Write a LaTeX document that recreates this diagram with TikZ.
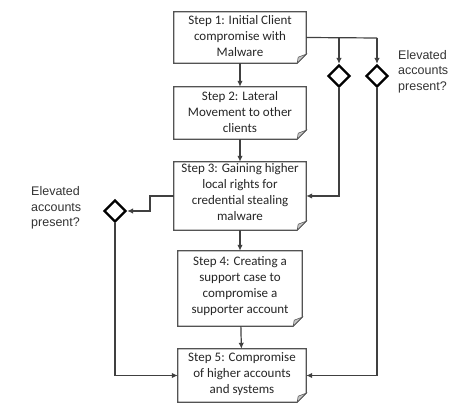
\documentclass[tikz,border=0pt]{standalone}
\usepackage{fontspec}
\newfontfamily\boxfont{Carlito}
\newfontfamily\qfont{Liberation Sans}
\usetikzlibrary{shapes.geometric,arrows.meta}
\definecolor{linegray}{HTML}{404040}
\tikzset{
  docbox/.style={draw=none,inner sep=0pt},
  boxtext/.style={font=\boxfont\fontsize{13}{16}\selectfont,align=center,inner sep=0pt,text=black!85},
  qtext/.style={font=\qfont\fontsize{12.5}{15.6}\selectfont,align=left,inner sep=0pt,anchor=west,text=black!80},
  decision/.style={diamond,draw=black,line width=2.2pt,fill=white,minimum width=22pt,minimum height=22pt,inner sep=0pt,aspect=1},
  conn/.style={draw=linegray,line width=1.2pt,-{Latex[length=6pt,width=5.5pt]}},
  plainconn/.style={draw=linegray,line width=1.2pt},
  outline/.style={draw=linegray!90,line width=1.2pt,fill=white},
  flap/.style={fill=gray!45,draw=gray!70!black,line width=0.6pt}
}
\begin{document}
\begin{tikzpicture}[x=1pt,y=-1pt]
\useasboundingbox (0,0) rectangle (467,411);
% boxes
\node[docbox,minimum width=132pt,minimum height=51pt] (b1) at (240,37.5) {};
\node[docbox,minimum width=132pt,minimum height=52pt] (b2) at (240,113) {};
\node[docbox,minimum width=132pt,minimum height=68pt] (b3) at (240,196) {};
\node[docbox,minimum width=124pt,minimum height=75pt] (b4) at (240,288.5) {};
\node[docbox,minimum width=128pt,minimum height=53pt] (b5) at (242,375.5) {};
\foreach \b in {b1,b2,b3,b4,b5}{
  \path[outline] (\b.north west) -- (\b.north east) -- ([yshift=9pt]\b.south east)
     -- ([xshift=-9pt]\b.south east) -- (\b.south west) -- cycle;
  \path[flap] ([xshift=-9pt]\b.south east) -- ([yshift=9pt]\b.south east)
     .. controls ([xshift=-4pt,yshift=7pt]\b.south east) .. ([xshift=-8pt,yshift=6pt]\b.south east) -- cycle;
}
\node[boxtext] (t1) at (240,36) {Step 1: Initial Client\\compromise with\\Malware};
\node[boxtext] (t2) at (240,112) {Step 2: Lateral\\Movement to other\\clients};
\node[boxtext] (t3) at (240,192) {Step 3: Gaining higher\\local rights for\\credential stealing\\malware};
\node[boxtext] (t4) at (240,286) {Step 4: Creating a\\support case to\\compromise a\\supporter account};
\node[boxtext] (t5) at (242,374) {Step 5: Compromise\\of higher accounts\\and systems};
% decisions
\node[decision] (d1) at (339,76) {};
\node[decision] (d2) at (377,76) {};
\node[decision] (d3) at (115,211) {};
\node[qtext] (q1) at (398,71.5) {Elevated\\accounts\\present?};
\node[qtext] (q2) at (31,208) {Elevated\\accounts\\present?};
% helper coordinates
\coordinate (j1) at (339,38);
\coordinate (j2) at (377,38);
% main flow
\path[conn] (b1) -- (b2);
\path[conn] (b2) -- (b3);
\path[conn] (b3) -- (b4);
\path[conn] (b4) -- (b5);
% branches from step 1
\path[plainconn] (b1.east) -- (j2);
\path[conn] (j1) -- (d1.north);
\path[conn] (j2) -- (d2.north);
\path[conn] (d1.south) |- (b3.east);
\path[conn] (d2.south) |- (b5.east);
% branch from step 3
\path[conn] (b3.west) -- (150,196) -- (150,211) -- (d3.east);
\path[conn] (d3.south) |- (b5.west);
\end{tikzpicture}
\end{document}
